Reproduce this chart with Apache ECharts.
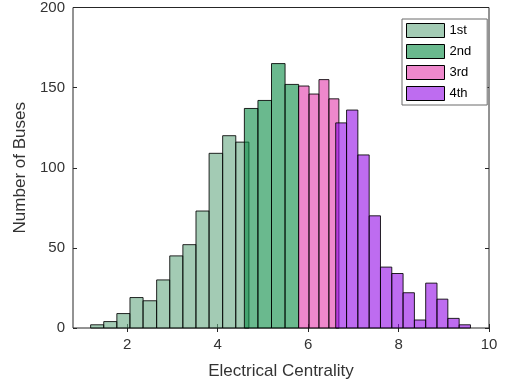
<!DOCTYPE html>
<html>
<head>
<meta charset="utf-8">
<script src="https://cdn.jsdelivr.net/npm/echarts@6/dist/echarts.min.js"></script>
<style>
  html, body { margin: 0; padding: 0; background: #fff; }
  #chart { width: 508px; height: 386px; }
</style>
</head>
<body>
<div id="chart"></div>
<script>
// bin edges (Electrical Centrality) and counts for each quartile
const q1Edges = [1.19, 1.48, 1.77, 2.06, 2.35, 2.65, 2.94, 3.23, 3.52, 3.81, 4.11, 4.40, 4.69];
const q1Counts = [2, 4, 9, 19, 17, 30, 45, 52, 73, 109, 120, 116];
const q2Edges = [4.59, 4.89, 5.19, 5.49, 5.79];
const q2Counts = [137, 142, 165, 152];
const q3Edges = [5.79, 6.02, 6.24, 6.46, 6.68];
const q3Counts = [151, 146, 155, 143];
const q4Edges = [6.61, 6.85, 7.10, 7.35, 7.60, 7.85, 8.10, 8.35, 8.60, 8.85, 9.09, 9.34, 9.59];
const q4Counts = [128, 136, 108, 70, 38, 34, 22, 5, 28, 18, 6, 2];

const names = ["1st", "2nd", "3rd", "4th"];
const xTicks = [2, 4, 6, 8, 10];

const font = "Liberation Sans, Arial, sans-serif";
const axisColor = "#262626";
const textColor = "#333";

// turn edges + counts into [left, right, count]
const toBins = (edges, counts) =>
  counts.map((c, i) => [edges[i], edges[i + 1], c]);

const renderBin = (params, api) => {
  const topLeft = api.coord([api.value(0), api.value(2)]);
  const bottomRight = api.coord([api.value(1), 0]);
  return {
    type: "rect",
    shape: {
      x: topLeft[0],
      y: topLeft[1],
      width: bottomRight[0] - topLeft[0],
      height: bottomRight[1] - topLeft[1],
    },
    style: {
      fill: api.visual("color"),
      stroke: "rgba(0,0,0,0.85)",
      lineWidth: 1,
    },
  };
};

const makeSeries = (name, edges, counts, color) => ({
  name: name,
  type: "custom",
  renderItem: renderBin,
  itemStyle: { color: color },
  encode: { x: [0, 1], y: 2 },
  data: toBins(edges, counts),
});

const myChart = echarts.init(document.getElementById("chart"));

const options = {
  backgroundColor: "#fff",
  animation: false,
  grid: {
    left: 73,
    right: 19,
    top: 7,
    bottom: 58,
    show: true,
    borderColor: axisColor,
    borderWidth: 1,
  },
  legend: {
    orient: "vertical",
    left: 402,
    top: 19,
    padding: [4, 16, 4, 4],
    itemWidth: 38,
    itemHeight: 14,
    itemGap: 6,
    icon: "rect",
    backgroundColor: "#fff",
    borderColor: "#6b6b6b",
    borderWidth: 1,
    itemStyle: { borderColor: "#000", borderWidth: 1 },
    textStyle: { fontFamily: font, fontSize: 13, color: "#000" },
    data: names,
  },
  xAxis: [
    {
      type: "value",
      min: 0.8,
      max: 10,
      name: "Electrical Centrality",
      nameLocation: "middle",
      nameGap: 35,
      nameTextStyle: { fontFamily: font, fontSize: 17, color: textColor },
      splitLine: { show: false },
      axisLine: { show: false },
      axisTick: { inside: true, length: 4, lineStyle: { color: axisColor }, customValues: xTicks },
      axisLabel: { fontFamily: font, fontSize: 15, color: textColor, margin: 9, customValues: xTicks },
    },
    {
      type: "value",
      position: "top",
      min: 0.8,
      max: 10,
      splitLine: { show: false },
      axisLine: { show: false },
      axisTick: { inside: true, length: 4, lineStyle: { color: axisColor }, customValues: xTicks },
      axisLabel: { show: false },
    },
  ],
  yAxis: [
    {
      type: "value",
      min: 0,
      max: 200,
      interval: 50,
      name: "Number of Buses",
      nameLocation: "middle",
      nameGap: 36,
      nameTextStyle: { fontFamily: font, fontSize: 17, color: textColor },
      splitLine: { show: false },
      axisLine: { show: false },
      axisTick: { show: true, inside: true, length: 4, lineStyle: { color: axisColor } },
      axisLabel: { fontFamily: font, fontSize: 15, color: textColor, margin: 8 },
    },
    {
      type: "value",
      position: "right",
      min: 0,
      max: 200,
      interval: 50,
      splitLine: { show: false },
      axisLine: { show: false },
      axisTick: { show: true, inside: true, length: 4, lineStyle: { color: axisColor } },
      axisLabel: { show: false },
    },
  ],
  series: [
    makeSeries(names[0], q1Edges, q1Counts, "rgba(102,168,130,0.6)"),
    makeSeries(names[1], q2Edges, q2Counts, "rgba(7,138,67,0.6)"),
    makeSeries(names[2], q3Edges, q3Counts, "rgba(227,57,170,0.6)"),
    makeSeries(names[3], q4Edges, q4Counts, "rgba(147,10,230,0.6)"),
  ],
};

myChart.setOption(options);
</script>
</body>
</html>
